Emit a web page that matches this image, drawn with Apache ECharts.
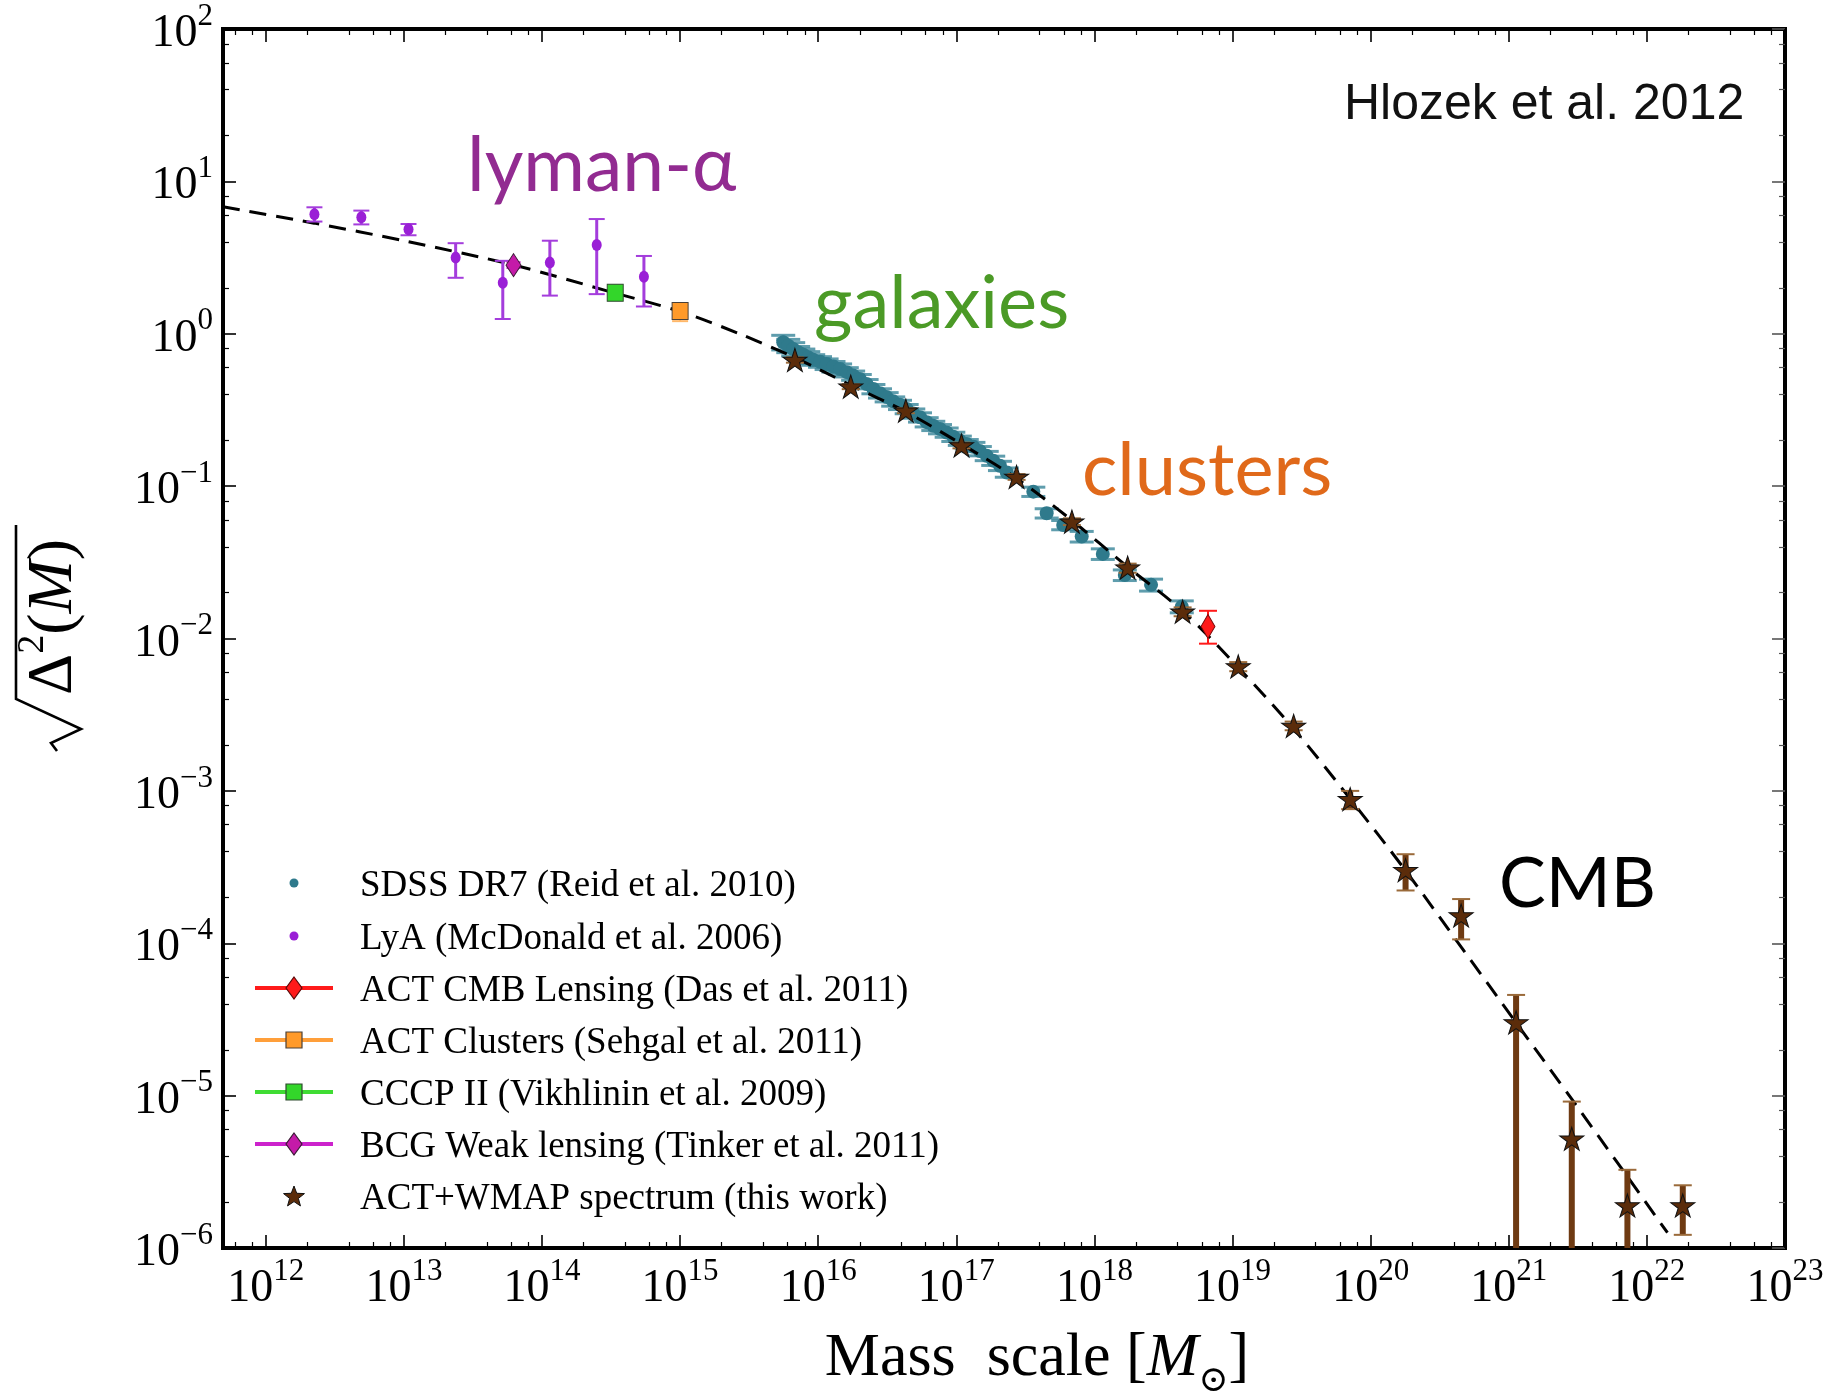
<!DOCTYPE html>
<html>
<head>
<meta charset="utf-8">
<script src="https://cdn.jsdelivr.net/npm/echarts@6/dist/echarts.min.js"></script>
<style>
  html, body { margin: 0; padding: 0; background: #ffffff; }
  #chart { width: 1841px; height: 1395px; }
</style>
</head>
<body>
<div id="chart"></div>
<script>
// ---------------- data ----------------
// axis tick labels (powers of ten)
const xMajorTicks = [1e12, 1e13, 1e14, 1e15, 1e16, 1e17, 1e18, 1e19, 1e20, 1e21, 1e22, 1e23];
const yMajorTicks = [1e-6, 1e-5, 1e-4, 1e-3, 1e-2, 1e-1, 1e0, 1e1, 1e2];

// theory curve (dashed)
const curveMass  = [4.90e11, 2.24e12, 1.00e13, 6.31e13, 3.16e14, 1.00e15, 2.69e15, 7.08e15, 1.74e16, 4.27e16, 1.12e17, 2.75e17,
                    6.76e17, 1.74e18, 4.37e18, 1.10e19, 2.82e19, 7.08e19, 1.78e20, 4.57e20, 1.15e21, 2.95e21, 6.46e21, 1.41e22];
const curveSigma = [6.82, 5.32, 4.08, 2.82, 1.88, 1.40, 1.00, 0.684, 0.457, 0.309, 0.186, 0.112,
                    0.0603, 0.0295, 0.0151, 0.00646, 0.00251, 8.91e-4, 3.02e-4, 9.33e-5, 2.95e-5, 9.12e-6, 3.39e-6, 1.26e-6];

// SDSS DR7 (Reid et al. 2010)
const sdssMass  = [5.58e15, 6.07e15, 6.59e15, 7.16e15, 7.80e15, 8.47e15, 9.20e15, 1.03e16, 1.15e16, 1.29e16, 1.44e16,
                   1.61e16, 1.79e16, 2.00e16, 2.24e16, 2.51e16, 2.80e16, 3.13e16, 3.49e16, 3.91e16, 4.37e16, 4.88e16,
                   5.46e16, 6.10e16, 6.81e16, 7.62e16, 8.51e16, 9.51e16, 1.06e17, 1.19e17, 1.33e17, 1.48e17, 1.66e17,
                   1.85e17, 2.07e17, 2.32e17, 3.61e17, 4.51e17, 5.94e17, 8.09e17, 1.15e18, 1.66e18, 2.57e18, 4.29e18];
const sdssSigma = [0.880, 0.835, 0.795, 0.757, 0.728, 0.700, 0.675, 0.655, 0.633, 0.609, 0.587,
                   0.560, 0.532, 0.505, 0.468, 0.434, 0.407, 0.384, 0.360, 0.342, 0.321, 0.300,
                   0.283, 0.263, 0.249, 0.237, 0.225, 0.211, 0.199, 0.189, 0.181, 0.170, 0.158,
                   0.147, 0.136, 0.123, 0.0920, 0.0664, 0.0556, 0.0467, 0.0359, 0.0261, 0.0225, 0.0162];
const sdssRelErr = [0.11, 0.10, 0.10, 0.09, 0.09, 0.09, 0.08, 0.08, 0.08, 0.08, 0.08,
                    0.07, 0.07, 0.07, 0.07, 0.07, 0.07, 0.07, 0.07, 0.07, 0.07, 0.07,
                    0.07, 0.07, 0.07, 0.07, 0.07, 0.07, 0.07, 0.07, 0.07, 0.07, 0.07,
                    0.07, 0.07, 0.07, 0.07, 0.07, 0.07, 0.08, 0.08, 0.08, 0.09, 0.09];

// LyA (McDonald et al. 2006)
const lyaMass  = [2.25e12, 4.92e12, 1.08e13, 2.37e13, 5.20e13, 1.14e14, 2.49e14, 5.47e14];
const lyaSigma = [6.08, 5.81, 4.85, 3.16, 2.16, 2.93, 3.83, 2.37];
const lyaHi    = [6.76, 6.43, 5.25, 3.93, 3.01, 4.08, 5.66, 3.24];
const lyaLo    = [5.45, 5.22, 4.43, 2.33, 1.25, 1.78, 1.82, 1.51];

// BCG weak lensing (Tinker et al. 2011)
const bcgMass = [6.22e13], bcgSigma = [2.82], bcgHi = [2.95], bcgLo = [2.70];
// CCCP II (Vikhlinin et al. 2009)
const cccpMass = [3.39e14], cccpSigma = [1.86], cccpHi = [1.93], cccpLo = [1.79];
// ACT clusters (Sehgal et al. 2011)
const actClMass = [1.00e15], actClSigma = [1.41], actClHi = [1.55], actClLo = [1.21];
// ACT CMB lensing (Das et al. 2011)
const lensMass = [6.64e18], lensSigma = [0.0120], lensHi = [0.0152], lensLo = [0.00925];

// ACT+WMAP spectrum (this work)
const actMass  = [6.78e15, 1.72e16, 4.31e16, 1.09e17, 2.73e17, 6.87e17, 1.74e18, 4.35e18, 1.10e19,
                  2.77e19, 7.11e19, 1.79e20, 4.52e20, 1.13e21, 2.86e21, 7.23e21, 1.82e22];
const actSigma = [0.673, 0.450, 0.313, 0.185, 0.115, 0.0585, 0.0292, 0.0150, 0.00655,
                  0.00267, 8.83e-4, 3.02e-4, 1.52e-4, 3.02e-5, 5.21e-6, 1.90e-6, 1.90e-6];
const actHi    = [0.700, 0.467, 0.325, 0.193, 0.120, 0.0615, 0.0310, 0.0160, 0.00700,
                  0.00285, 1.00e-3, 3.84e-4, 1.95e-4, 4.58e-5, 9.14e-6, 3.26e-6, 2.58e-6];
const actLo    = [0.646, 0.433, 0.301, 0.177, 0.110, 0.0555, 0.0270, 0.0140, 0.00610,
                  0.00250, 7.59e-4, 2.22e-4, 1.06e-4, 1e-7, 1e-7, 1e-7, 1.22e-6];

// legend entries
const legendLabels = [
  'SDSS DR7 (Reid et al. 2010)',
  'LyA (McDonald et al. 2006)',
  'ACT CMB Lensing (Das et al. 2011)',
  'ACT Clusters (Sehgal et al. 2011)',
  'CCCP II (Vikhlinin et al. 2009)',
  'BCG Weak lensing (Tinker et al. 2011)',
  'ACT+WMAP spectrum (this work)'
];

// ---------------- styling ----------------
const SERIF = '"Liberation Serif", "Times New Roman", "DejaVu Serif", serif';
const SANS  = '"Liberation Sans", Arial, Helvetica, sans-serif';
const CAL   = 'Lato, "Open Sans", "Noto Sans", sans-serif';

const C_SDSS = '#2f7a8c', C_SDSS_BAR = 'rgba(55,132,152,0.8)';
const C_LYA = '#9a1fd6', C_LYA_BAR = '#a43ddc';
const C_BCG = '#c41aa8', C_BCG_LINE = '#cc22cc';
const C_CCCP = '#33d62a', C_CCCP_LINE = '#3fdc33';
const C_ACTCL = '#ff9a2a', C_ACTCL_LINE = '#ff9f3a';
const C_LENS = '#ff1a1a';
const C_STAR = '#5b2c0a', C_STAR_BAR = '#6e3a12', C_STAR_CAP = '#9a6a3a';
const STAR_PATH = 'path://M50,2 L61.2,36.2 L97.6,36.2 L68.2,57.4 L79.4,91.6 L50,70.4 L20.6,91.6 L31.8,57.4 L2.4,36.2 L38.8,36.2 Z';

const X_MIN = 4.9e11, X_MAX = 1.0005e23, Y_MIN = 1e-6, Y_MAX = 1.0002e2;

// minor ticks at 2,4,6,8 x 10^n
const xMinorTicks = [], yMinorTicks = [];
for (let n = 11; n <= 22; n++) for (const m of [2, 4, 6, 8]) xMinorTicks.push(m * Math.pow(10, n));
for (let n = -6; n <= 1; n++) for (const m of [2, 4, 6, 8]) yMinorTicks.push(m * Math.pow(10, n));

function powLabel(v) {
  const e = Math.round(Math.log10(v));
  const s = e < 0 ? '\u2212' + (-e) : String(e);
  return '{b|10}{s|' + s + '}';
}
const tickRich = {
  b: { fontFamily: SERIF, fontSize: 46, lineHeight: 56, verticalAlign: 'bottom', color: '#000' },
  s: { fontFamily: SERIF, fontSize: 31, lineHeight: 32, verticalAlign: 'top', color: '#000' }
};

function makeAxis(kind, pos, major) {
  const isX = kind === 'x';
  const labelled = major && (pos === 'bottom' || pos === 'left');
  const tickColor = pos === 'right' ? '#555' : '#000';
  return {
    type: 'log', logBase: 10,
    min: isX ? X_MIN : Y_MIN, max: isX ? X_MAX : Y_MAX,
    position: pos, gridIndex: 0,
    axisLine: { show: major, onZero: false, lineStyle: { color: '#000', width: 4, cap: 'square' } },
    axisTick: {
      show: true, inside: true, length: major ? 13 : 6,
      customValues: major ? (isX ? xMajorTicks : yMajorTicks) : (isX ? xMinorTicks : yMinorTicks),
      lineStyle: { color: tickColor, width: major ? 1.6 : 1.2 }
    },
    axisLabel: {
      show: labelled,
      customValues: isX ? xMajorTicks : yMajorTicks,
      formatter: powLabel, rich: tickRich,
      margin: isX ? 8 : 10
    },
    splitLine: { show: false },
    minorTick: { show: false },
    minorSplitLine: { show: false }
  };
}

// vertical error bars with caps, clipped to the plot area
function errorBars(color, width, capHalf, capColor, capWidth) {
  return function (params, api) {
    const x = api.value(0), lo = api.value(2), hi = api.value(3);
    const pHi = api.coord([x, hi]);
    const pLo = api.coord([x, lo]);
    const cs = params.coordSys;
    const top = cs.y, bottom = cs.y + cs.height;
    const y1 = Math.max(pHi[1], top), y2 = Math.min(pLo[1], bottom);
    const children = [{
      type: 'line', shape: { x1: pHi[0], y1: y1, x2: pHi[0], y2: y2 },
      style: { stroke: color, lineWidth: width }
    }];
    if (pHi[1] >= top) children.push({
      type: 'line', shape: { x1: pHi[0] - capHalf, y1: pHi[1], x2: pHi[0] + capHalf, y2: pHi[1] },
      style: { stroke: capColor, lineWidth: capWidth }
    });
    if (pLo[1] <= bottom) children.push({
      type: 'line', shape: { x1: pLo[0] - capHalf, y1: pLo[1], x2: pLo[0] + capHalf, y2: pLo[1] },
      style: { stroke: capColor, lineWidth: capWidth }
    });
    return { type: 'group', children: children };
  };
}

function zipErr(mass, sig, lo, hi) {
  return mass.map((m, i) => [m, sig[i], lo[i], hi[i]]);
}
function zipPts(mass, sig) {
  return mass.map((m, i) => [m, sig[i]]);
}

const sdssLo = sdssSigma.map((v, i) => v * (1 - sdssRelErr[i]));
const sdssHi = sdssSigma.map((v, i) => v * (1 + sdssRelErr[i]));

function errSeries(name, mass, sig, lo, hi, color, width, capHalf, capColor, capWidth, z) {
  return {
    type: 'custom', name: name, z: z,
    xAxisIndex: 0, yAxisIndex: 0,
    renderItem: errorBars(color, width, capHalf, capColor, capWidth),
    encode: { x: 0, y: 1 },
    data: zipErr(mass, sig, lo, hi),
    silent: true
  };
}
function ptSeries(name, mass, sig, symbol, size, color, border, z) {
  return {
    type: 'scatter', name: name, z: z,
    xAxisIndex: 0, yAxisIndex: 0,
    symbol: symbol, symbolSize: size,
    itemStyle: { color: color, borderColor: border || color, borderWidth: border ? 1 : 0, opacity: 1 },
    data: zipPts(mass, sig),
    silent: true
  };
}

const series = [
  errSeries('SDSS DR7 (Reid et al. 2010)', sdssMass, sdssSigma, sdssLo, sdssHi, C_SDSS_BAR, 3, 12, C_SDSS_BAR, 3, 2),
  ptSeries('SDSS DR7 (Reid et al. 2010)', sdssMass, sdssSigma, 'circle', 14, C_SDSS, null, 3),
  {
    type: 'line', name: 'theory', z: 4,
    xAxisIndex: 0, yAxisIndex: 0,
    data: zipPts(curveMass, curveSigma),
    smooth: 0.3, showSymbol: false, symbol: 'none',
    lineStyle: { color: '#000', width: 3, type: [17, 10] },
    silent: true
  },
  errSeries('LyA (McDonald et al. 2006)', lyaMass, lyaSigma, lyaLo, lyaHi, C_LYA_BAR, 3, 8, C_LYA_BAR, 2, 5),
  ptSeries('LyA (McDonald et al. 2006)', lyaMass, lyaSigma, 'circle', [10, 12], C_LYA, null, 6),
  errSeries('BCG Weak lensing (Tinker et al. 2011)', bcgMass, bcgSigma, bcgLo, bcgHi, C_BCG_LINE, 2, 7, C_BCG_LINE, 2, 5),
  ptSeries('BCG Weak lensing (Tinker et al. 2011)', bcgMass, bcgSigma, 'diamond', [15, 23], C_BCG, '#3a1a35', 6),
  errSeries('CCCP II (Vikhlinin et al. 2009)', cccpMass, cccpSigma, cccpLo, cccpHi, C_CCCP_LINE, 2, 7, C_CCCP_LINE, 2, 5),
  ptSeries('CCCP II (Vikhlinin et al. 2009)', cccpMass, cccpSigma, 'rect', [16, 17], C_CCCP, '#2f4a2f', 6),
  errSeries('ACT Clusters (Sehgal et al. 2011)', actClMass, actClSigma, actClLo, actClHi, C_ACTCL_LINE, 2, 8, '#ffb86a', 2, 5),
  ptSeries('ACT Clusters (Sehgal et al. 2011)', actClMass, actClSigma, 'rect', [16, 17], C_ACTCL, '#4a4038', 6),
  errSeries('ACT CMB Lensing (Das et al. 2011)', lensMass, lensSigma, lensLo, lensHi, C_LENS, 2, 9, C_LENS, 2, 5),
  ptSeries('ACT CMB Lensing (Das et al. 2011)', lensMass, lensSigma, 'diamond', [14, 24], C_LENS, '#7a0a0a', 6),
  errSeries('ACT+WMAP spectrum (this work)', actMass, actSigma, actLo, actHi, C_STAR_BAR, 6, 9, C_STAR_CAP, 2, 7),
  ptSeries('ACT+WMAP spectrum (this work)', actMass, actSigma, STAR_PATH, [24, 23], C_STAR, '#111', 8)
];

// ---------------- legend + annotations ----------------
const legendRowY = [886, 939, 991, 1043, 1095, 1147, 1199];
const LX = 294, LTX = 360;
function starPoints(cx, cy, ro, ri) {
  const pts = [];
  for (let i = 0; i < 10; i++) {
    const a = -Math.PI / 2 + i * Math.PI / 5;
    const r = i % 2 ? ri : ro;
    pts.push([cx + r * Math.cos(a), cy + r * Math.sin(a)]);
  }
  return pts;
}
const legendMarks = [
  { kind: 'dot', color: C_SDSS },
  { kind: 'dot', color: C_LYA },
  { kind: 'diamond', color: C_LENS, line: C_LENS, edge: '#5a0a0a' },
  { kind: 'square', color: C_ACTCL, line: C_ACTCL_LINE, edge: '#4a4038' },
  { kind: 'square', color: C_CCCP, line: C_CCCP_LINE, edge: '#2f4a2f' },
  { kind: 'diamond', color: C_BCG, line: C_BCG_LINE, edge: '#3a1a35' },
  { kind: 'star', color: C_STAR, edge: '#111' }
];
const graphics = [];
legendMarks.forEach((mk, i) => {
  const cy = legendRowY[i];
  const my = cy - 3;
  if (mk.line) graphics.push({ type: 'line', z: 100, shape: { x1: 255, y1: my, x2: 333, y2: my }, style: { stroke: mk.line, lineWidth: 4 } });
  if (mk.kind === 'dot') graphics.push({ type: 'circle', z: 101, shape: { cx: LX, cy: my, r: 4.5 }, style: { fill: mk.color } });
  if (mk.kind === 'diamond') graphics.push({ type: 'polygon', z: 101, shape: { points: [[LX, my - 11], [LX + 8, my], [LX, my + 11], [LX - 8, my]] }, style: { fill: mk.color, stroke: mk.edge, lineWidth: 1.2 } });
  if (mk.kind === 'square') graphics.push({ type: 'rect', z: 101, shape: { x: LX - 8, y: my - 8, width: 16, height: 16 }, style: { fill: mk.color, stroke: mk.edge, lineWidth: 1.2 } });
  if (mk.kind === 'star') graphics.push({ type: 'polygon', z: 101, shape: { points: starPoints(LX, my + 1, 11, 4.6) }, style: { fill: mk.color, stroke: mk.edge, lineWidth: 1 } });
  graphics.push({ type: 'text', z: 101, x: LTX, y: cy, style: { text: legendLabels[i], font: '37px ' + SERIF, fill: '#000', verticalAlign: 'middle', align: 'left' } });
});

// region labels
graphics.push(
  { type: 'text', z: 100, x: 1344, y: 105, style: { text: 'Hlozek et al. 2012', font: '50px ' + SANS, fill: '#111', verticalAlign: 'middle', align: 'left' } },
  { type: 'text', z: 100, x: 467, y: 167, style: { text: 'lyman-\u03b1', font: '75px ' + CAL, fill: '#922b91', verticalAlign: 'middle', align: 'left' } },
  { type: 'text', z: 100, x: 814, y: 304, style: { text: 'galaxies', font: '74px ' + CAL, fill: '#4b9a26', verticalAlign: 'middle', align: 'left' } },
  { type: 'text', z: 100, x: 1082, y: 471, style: { text: 'clusters', font: '74px ' + CAL, fill: '#e0691a', verticalAlign: 'middle', align: 'left' } },
  { type: 'text', z: 100, x: 1499, y: 884, style: { text: 'CMB', font: '70px ' + CAL, fill: '#000', verticalAlign: 'middle', align: 'left' } }
);

// x-axis title
graphics.push({
  type: 'text', z: 100, x: 1037, y: 1364,
  style: {
    text: '{r|Mass  scale [}{i|M}{o|\u2299}{r|]}',
    align: 'center', verticalAlign: 'middle',
    rich: {
      r: { fontFamily: SERIF, fontSize: 62, lineHeight: 72, verticalAlign: 'top', fill: '#000' },
      i: { fontFamily: SERIF, fontSize: 62, fontStyle: 'italic', lineHeight: 72, verticalAlign: 'top', fill: '#000' },
      o: { fontFamily: '"DejaVu Serif", ' + SERIF, fontSize: 36, lineHeight: 40, verticalAlign: 'bottom', fill: '#000' }
    }
  }
});

// y-axis title: sqrt(Delta^2(M)), reading bottom to top
graphics.push({
  type: 'group', z: 100, x: 50, y: 638, rotation: Math.PI / 2,
  children: [
    { type: 'polyline', shape: { points: [[-113, 7], [-105, 1], [-91, 31], [-61, -34], [113, -34]] },
      style: { stroke: '#000', lineWidth: 2.6, fill: null, lineJoin: 'miter' } },
    { type: 'text', x: -57, y: 0,
      style: {
        text: '{d|\u0394}{s|2}{p|(}{i|M}{p|)}',
        align: 'left', verticalAlign: 'middle',
        rich: {
          d: { fontFamily: SERIF, fontSize: 64, lineHeight: 72, verticalAlign: 'bottom', fill: '#000' },
          s: { fontFamily: SERIF, fontSize: 38, lineHeight: 40, verticalAlign: 'top', fill: '#000' },
          p: { fontFamily: SERIF, fontSize: 64, lineHeight: 72, verticalAlign: 'bottom', fill: '#000' },
          i: { fontFamily: SERIF, fontSize: 64, fontStyle: 'italic', lineHeight: 72, verticalAlign: 'bottom', fill: '#000' }
        }
      } }
  ]
});

const chart = echarts.init(document.getElementById('chart'), null, { renderer: 'canvas' });
chart.setOption({
  backgroundColor: '#ffffff',
  animation: false,
  grid: { left: 223, right: 56, top: 29, bottom: 147, containLabel: false },
  xAxis: [makeAxis('x', 'bottom', true), makeAxis('x', 'bottom', false), makeAxis('x', 'top', true), makeAxis('x', 'top', false)],
  yAxis: [makeAxis('y', 'left', true), makeAxis('y', 'left', false), makeAxis('y', 'right', true), makeAxis('y', 'right', false)],
  series: series,
  graphic: graphics
});
</script>
</body>
</html>
